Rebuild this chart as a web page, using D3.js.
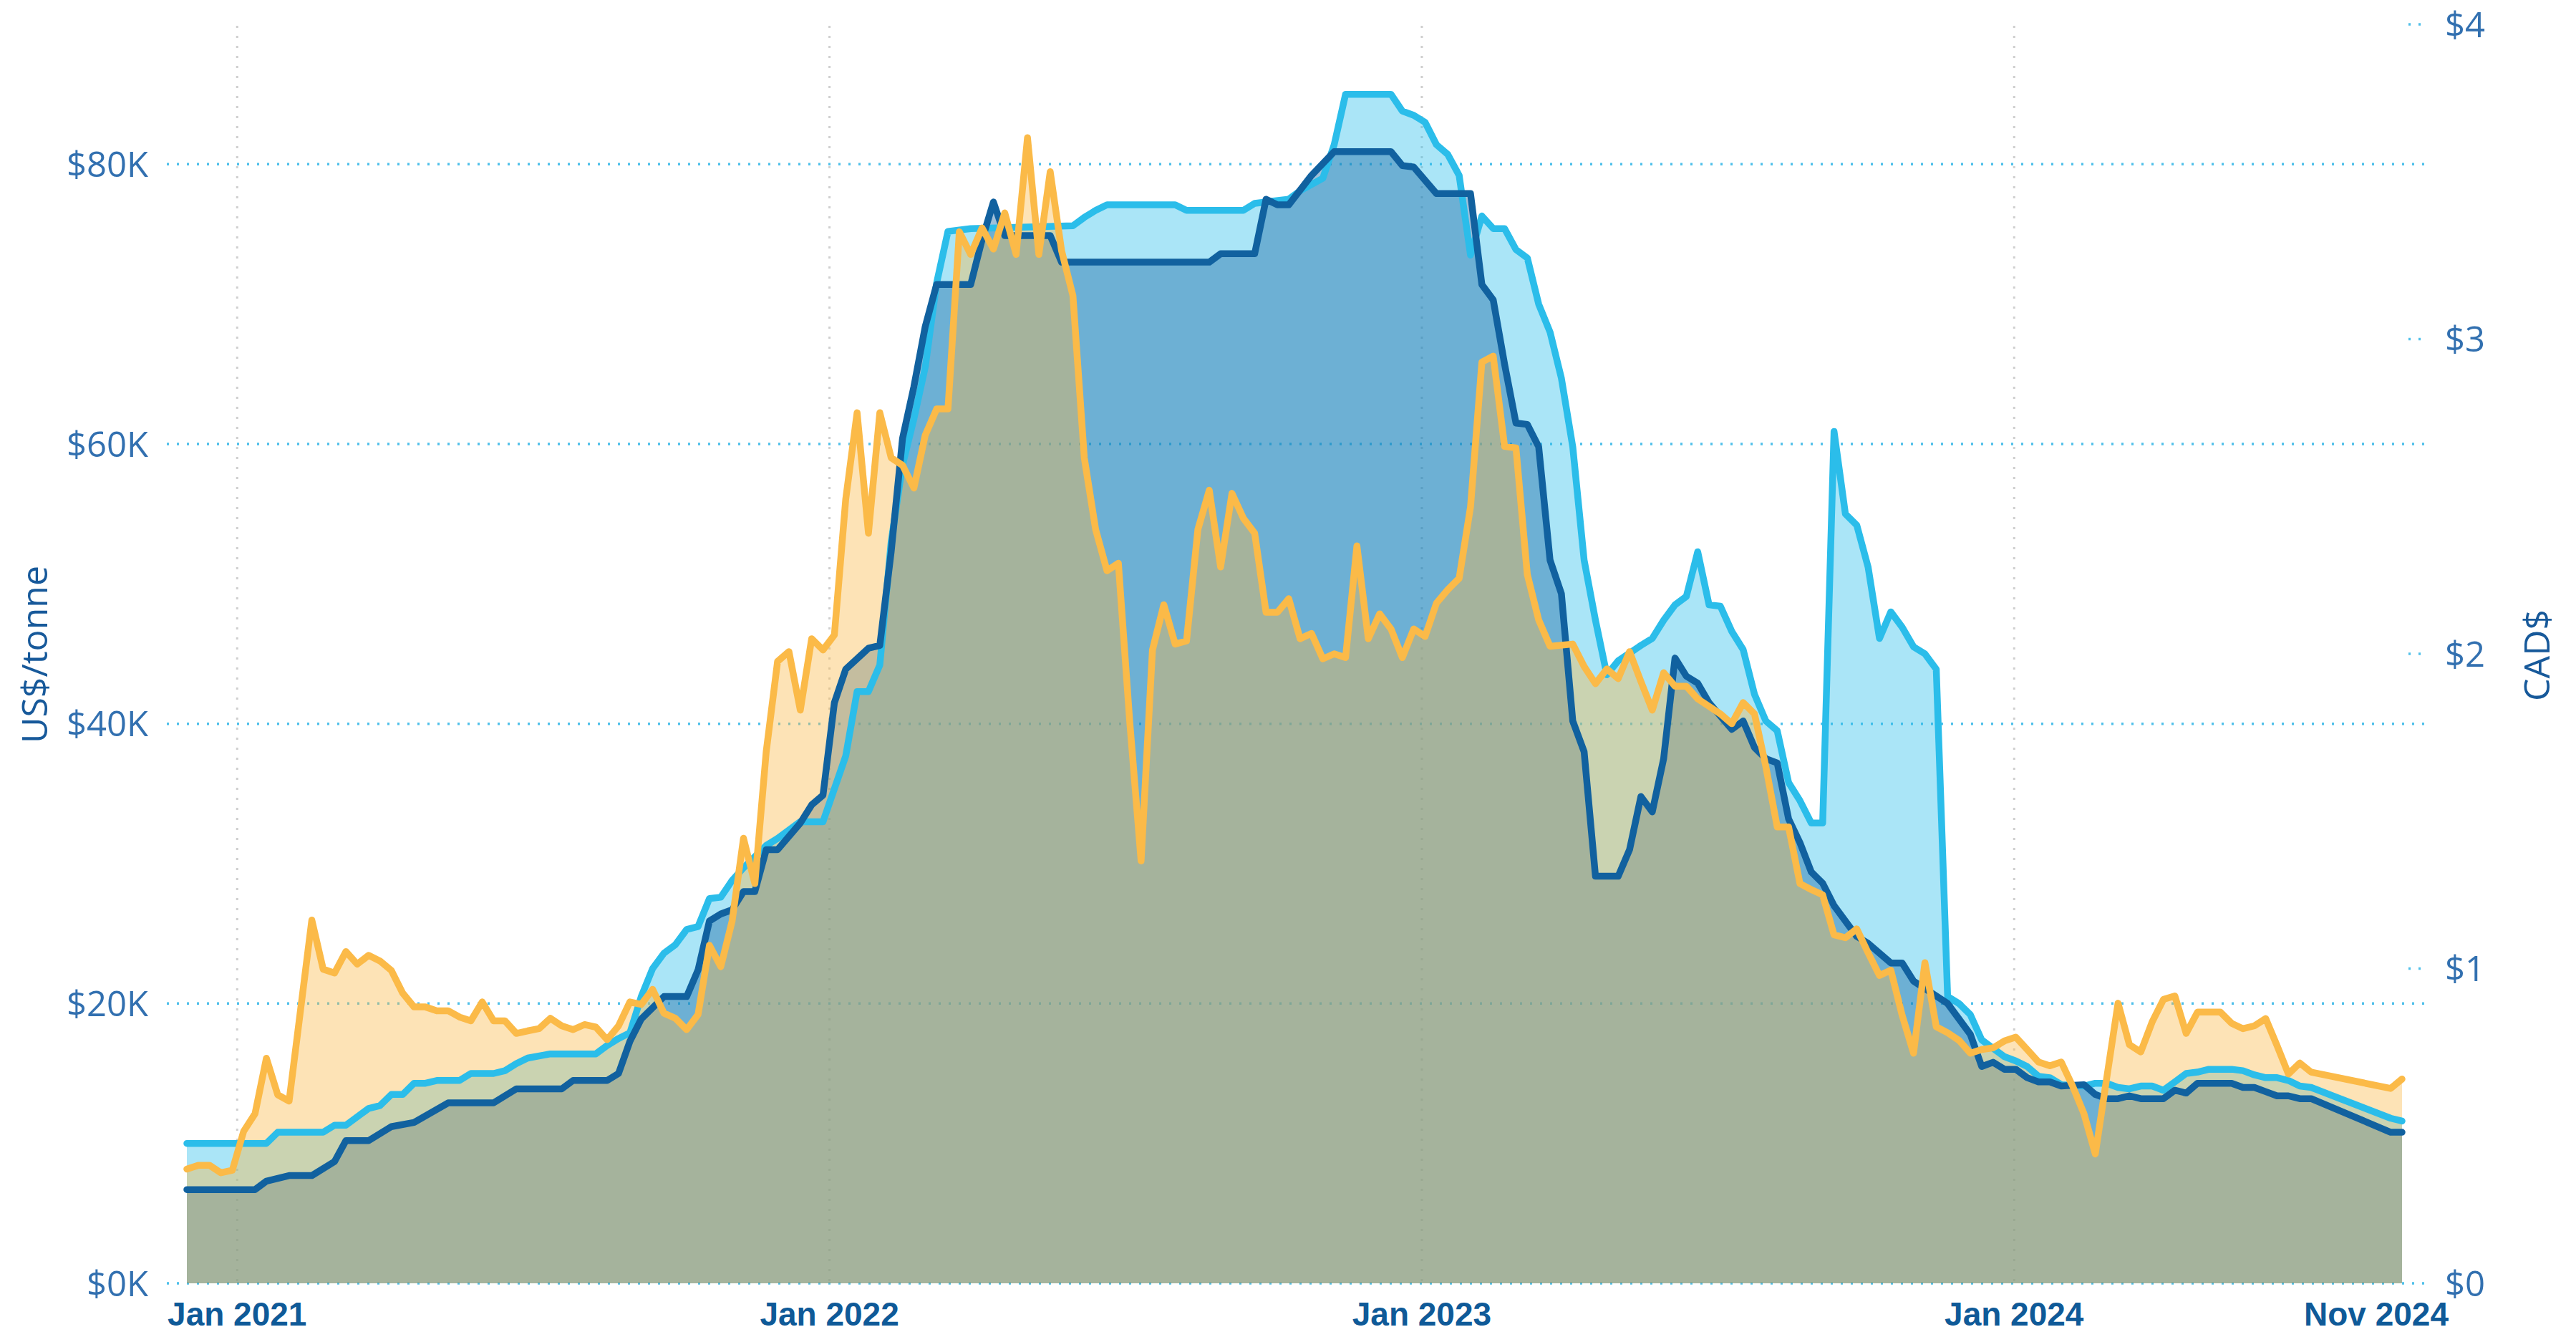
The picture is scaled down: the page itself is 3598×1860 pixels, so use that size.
<!DOCTYPE html>
<html>
<head>
<meta charset="utf-8">
<script src="https://cdn.jsdelivr.net/npm/d3@7"></script>
<style>
  html, body { margin: 0; padding: 0; background: #fff; }
  svg { display: block; }
  .tick-label { font-family: "Open Sans", "Noto Sans", sans-serif; font-size: 49px; fill: #3270b0; }
  .axis-title { font-family: "Open Sans", "Noto Sans", sans-serif; font-size: 50px; fill: #17599a; }
  .x-label { font-family: "Liberation Sans", Arial, sans-serif; font-weight: bold; font-size: 46px; fill: #0f5a98; }
</style>
</head>
<body>
<script>
// weekly observations, week 0 = first week of Dec 2020
const firstWeek = '2020-12-01'

// US$ thousands per tonne (left axis)
const darkSeries = [
  [0,6.7],[6,6.7],[7,7.3],[9,7.7],[11,7.7],[13,8.7],[14,10.2],[16,10.2],[18,11.2],[20,11.5],
  [23,12.9],[27,12.9],[29,13.9],[33,13.9],[34,14.5],[37,14.5],[38,15.0],[39,17.3],[40,18.9],[42,20.5],
  [44,20.5],[45,22.4],[46,25.9],[47,26.4],[48,26.7],[49,28.0],[50,28.0],[51,31.0],[52,31.0],[54,32.9],
  [55,34.2],[56,34.9],[57,41.5],[58,43.9],[60,45.4],[61,45.6],[62,52.3],[63,60.4],[64,64.1],[65,68.4],
  [66,71.4],[69,71.4],[70,74.6],[71,77.3],[72,74.9],[76,74.9],[77,73.0],[90,73.0],[91,73.6],[94,73.6],
  [95,77.5],[96,77.1],[97,77.1],[99,79.2],[101,80.9],[106,80.9],[107,79.9],[108,79.8],[110,77.9],[113,77.9],
  [114,71.4],[115,70.3],[116,65.7],[117,61.5],[118,61.4],[119,59.8],[120,51.7],[121,49.3],[122,40.2],[123,38.0],
  [124,29.1],[126,29.1],[127,31.0],[128,34.8],[129,33.7],[130,37.5],[131,44.7],[132,43.4],[133,42.9],[134,41.5],
  [136,39.6],[137,40.2],[138,38.3],[139,37.5],[140,37.2],[141,33.2],[142,31.5],[143,29.4],[144,28.6],[145,27.0],
  [147,24.8],[148,24.3],[150,22.9],[151,22.9],[152,21.6],[155,20.0],[157,17.8],[158,15.5],[159,15.8],[160,15.3],
  [161,15.3],[162,14.7],[163,14.4],[164,14.4],[165,14.1],[167,14.2],[168,13.5],[169,13.2],[170,13.2],[171,13.4],
  [172,13.2],[174,13.2],[175,13.8],[176,13.6],[177,14.3],[180,14.3],[181,14.0],[182,14.0],[183,13.7],[184,13.4],
  [185,13.4],[186,13.2],[187,13.2],[194,10.8],[195,10.8]
]

const lightSeries = [
  [0,10.0],[7,10.0],[8,10.8],[12,10.8],[13,11.3],[14,11.3],[15,11.9],[16,12.5],[17,12.7],[18,13.5],
  [19,13.5],[20,14.3],[21,14.3],[22,14.5],[24,14.5],[25,15.0],[27,15.0],[28,15.2],[29,15.7],[30,16.1],
  [32,16.4],[36,16.4],[37,17.0],[38,17.5],[39,17.9],[40,20.5],[41,22.5],[42,23.6],[43,24.2],[44,25.3],
  [45,25.5],[46,27.5],[47,27.6],[48,28.8],[49,29.7],[51,31.3],[52,31.8],[54,33.0],[56,33.0],[58,37.7],
  [59,42.3],[60,42.3],[61,44.2],[62,53.0],[63,58.5],[64,61.8],[65,65.5],[66,71.5],[67,75.2],[69,75.4],
  [78,75.6],[79,76.2],[80,76.7],[81,77.1],[87,77.1],[88,76.7],[93,76.7],[94,77.2],[97,77.5],[98,78.1],
  [100,79.0],[101,81.4],[102,85.0],[106,85.0],[107,83.8],[108,83.5],[109,83.0],[110,81.4],[111,80.7],[112,79.2],
  [113,73.5],[114,76.3],[115,75.4],[116,75.4],[117,73.9],[118,73.3],[119,70.0],[120,68.0],[121,64.7],[122,59.8],
  [123,51.7],[124,47.4],[125,43.5],[126,44.5],[128,45.6],[129,46.1],[130,47.4],[131,48.5],[132,49.1],[133,52.3],
  [134,48.5],[135,48.4],[136,46.6],[137,45.3],[138,42.1],[139,40.2],[140,39.5],[141,35.8],[142,34.5],[143,32.9],
  [144,32.9],[145,60.9],[146,55.0],[147,54.2],[148,51.2],[149,46.1],[150,48.0],[151,46.9],[152,45.5],[153,45.0],
  [154,43.9],[155,20.5],[156,20.0],[157,19.2],[158,17.4],[160,16.2],[161,15.9],[162,15.5],[163,14.8],[164,14.7],
  [165,14.2],[167,14.1],[168,14.3],[169,14.3],[170,14.0],[171,13.9],[172,14.1],[173,14.1],[174,13.8],[175,14.4],
  [176,15.0],[177,15.1],[178,15.3],[180,15.3],[181,15.2],[182,14.9],[183,14.7],[184,14.7],[185,14.5],[186,14.1],
  [187,14.0],[194,11.8],[195,11.6]
]

// CAD$ (right axis)
const cadSeries = [
  [0,0.363],[1,0.375],[2,0.375],[3,0.351],[4,0.359],[5,0.483],[6,0.539],[7,0.715],[8,0.599],[9,0.579],
  [11,1.154],[12,0.998],[13,0.986],[14,1.054],[15,1.014],[16,1.042],[17,1.024],[18,0.994],[19,0.922],[20,0.878],
  [21,0.878],[22,0.866],[23,0.866],[24,0.846],[25,0.834],[26,0.894],[27,0.834],[28,0.834],[29,0.794],[30,0.802],
  [31,0.809],[32,0.842],[33,0.818],[34,0.806],[35,0.822],[36,0.814],[37,0.774],[38,0.818],[39,0.894],[40,0.886],
  [41,0.934],[42,0.858],[43,0.842],[44,0.806],[45,0.854],[46,1.074],[47,1.006],[48,1.151],[49,1.414],[50,1.270],
  [51,1.689],[52,1.976],[53,2.007],[54,1.821],[55,2.048],[56,2.012],[57,2.060],[58,2.491],[59,2.766],[60,2.383],
  [61,2.766],[62,2.623],[63,2.599],[64,2.527],[65,2.695],[66,2.778],[67,2.778],[68,3.341],[69,3.269],[70,3.353],
  [71,3.286],[72,3.401],[73,3.269],[74,3.640],[75,3.269],[76,3.532],[77,3.281],[78,3.138],[79,2.623],[80,2.395],
  [81,2.264],[82,2.288],[83,1.785],[84,1.342],[85,2.012],[86,2.156],[87,2.031],[88,2.041],[89,2.395],[90,2.520],
  [91,2.276],[92,2.510],[93,2.431],[94,2.383],[95,2.132],[96,2.132],[97,2.175],[98,2.048],[99,2.065],[100,1.984],
  [101,2.000],[102,1.988],[103,2.343],[104,2.048],[105,2.127],[106,2.079],[107,1.988],[108,2.079],[109,2.055],[110,2.161],
  [111,2.204],[112,2.240],[113,2.467],[114,2.927],[115,2.946],[116,2.659],[117,2.654],[118,2.252],[119,2.108],[120,2.024],
  [122,2.031],[123,1.960],[124,1.905],[125,1.952],[126,1.921],[127,2.007],[128,1.912],[129,1.821],[130,1.940],[131,1.897],
  [132,1.897],[133,1.857],[134,1.833],[135,1.809],[136,1.778],[137,1.845],[138,1.809],[139,1.641],[140,1.450],[141,1.450],
  [142,1.270],[143,1.251],[144,1.234],[145,1.107],[146,1.098],[147,1.126],[148,1.050],[149,0.978],[150,0.995],[151,0.851],
  [152,0.731],[153,1.019],[154,0.815],[155,0.796],[156,0.772],[157,0.731],[158,0.743],[159,0.748],[160,0.770],[161,0.782],
  [162,0.743],[163,0.703],[164,0.691],[165,0.703],[166,0.627],[167,0.539],[168,0.411],[169,0.651],[170,0.890],[171,0.758],
  [172,0.735],[173,0.830],[174,0.902],[175,0.913],[176,0.794],[177,0.862],[179,0.862],[180,0.826],[181,0.809],[182,0.818],
  [183,0.841],[184,0.755],[185,0.665],[186,0.700],[187,0.671],[194,0.619],[195,0.649]
]

const leftTicks = [0, 20, 40, 60, 80]
const rightTicks = [0, 1, 2, 3, 4]
const yearTicks = ['2021-01-01', '2022-01-01', '2023-01-01', '2024-01-01']
const lastLabel = 'Nov 2024'

const width = 3598
const height = 1860
const plot = { left: 261, right: 3355, top: 34, bottom: 1792 }

const start = d3.timeParse('%Y-%m-%d')(firstWeek)
const weekDate = (w) => d3.timeDay.offset(start, 7 * w)
const lastWeek = d3.max(darkSeries, d => d[0])

const x = d3.scaleTime()
    .domain([weekDate(0), weekDate(lastWeek)])
    .range([plot.left, plot.right])
const yLeft = d3.scaleLinear().domain([0, 90]).range([plot.bottom, plot.top])
const yRight = d3.scaleLinear().domain([0, 4]).range([plot.bottom, plot.top])

const svg = d3.select('body').append('svg')
    .attr('width', width)
    .attr('height', height)

svg.append('rect').attr('width', width).attr('height', height).attr('fill', '#fff')

// grid
const grid = svg.append('g')
grid.selectAll('.hgrid').data(leftTicks).enter()
  .append('line')
    .attr('x1', 233).attr('x2', 3386)
    .attr('y1', d => yLeft(d)).attr('y2', d => yLeft(d))
    .attr('stroke', '#4fc0ea')
    .attr('stroke-width', 3.5)
    .attr('stroke-dasharray', '3 11')

grid.selectAll('.rstub').data(rightTicks.filter(d => d > 0)).enter()
  .append('line')
    .attr('x1', 3364).attr('x2', 3388)
    .attr('y1', d => yRight(d)).attr('y2', d => yRight(d))
    .attr('stroke', '#4fc0ea')
    .attr('stroke-width', 3.5)
    .attr('stroke-dasharray', '3 11')

const parseDay = d3.timeParse('%Y-%m-%d')
grid.selectAll('.vgrid').data(yearTicks).enter()
  .append('line')
    .attr('x1', d => x(parseDay(d))).attr('x2', d => x(parseDay(d)))
    .attr('y1', 36).attr('y2', plot.bottom)
    .attr('stroke', '#cfcfcf')
    .attr('stroke-width', 3)
    .attr('stroke-dasharray', '3 11')

const series = [
  { data: lightSeries, y: yLeft, color: '#2bbdea' },
  { data: darkSeries, y: yLeft, color: '#11619f' },
  { data: cadSeries, y: yRight, color: '#fbba48' }
]

// areas first, then the lines on top
series.forEach(s => {
  const area = d3.area()
      .x(d => x(weekDate(d[0])))
      .y0(plot.bottom)
      .y1(d => s.y(d[1]))
  svg.append('path')
      .attr('d', area(s.data))
      .attr('fill', s.color)
      .attr('fill-opacity', 0.4)
})

series.forEach(s => {
  const line = d3.line()
      .x(d => x(weekDate(d[0])))
      .y(d => s.y(d[1]))
  svg.append('path')
      .attr('d', line(s.data))
      .attr('fill', 'none')
      .attr('stroke', s.color)
      .attr('stroke-width', 9.5)
      .attr('stroke-linejoin', 'round')
      .attr('stroke-linecap', 'round')
})

// axes labels
svg.selectAll('.ltick').data(leftTicks).enter()
  .append('text')
    .attr('class', 'tick-label')
    .attr('x', 207)
    .attr('y', d => yLeft(d))
    .attr('dy', '0.36em')
    .attr('text-anchor', 'end')
    .text(d => `$${d}K`)

svg.selectAll('.rtick').data(rightTicks).enter()
  .append('text')
    .attr('class', 'tick-label')
    .attr('x', 3415)
    .attr('y', d => yRight(d))
    .attr('dy', '0.36em')
    .text(d => `$${d}`)

const fmt = d3.timeFormat('%b %Y')
svg.selectAll('.xtick').data(yearTicks).enter()
  .append('text')
    .attr('class', 'x-label')
    .attr('x', d => x(parseDay(d)))
    .attr('y', 1851)
    .attr('text-anchor', 'middle')
    .text(d => fmt(parseDay(d)))

svg.append('text')
    .attr('class', 'x-label')
    .attr('x', x(weekDate(lastWeek)) - 36)
    .attr('y', 1851)
    .attr('text-anchor', 'middle')
    .text(lastLabel)

svg.append('text')
    .attr('class', 'axis-title')
    .attr('transform', 'translate(48,914) rotate(-90)')
    .attr('dy', '0.35em')
    .attr('text-anchor', 'middle')
    .text('US$/tonne')

svg.append('text')
    .attr('class', 'axis-title')
    .attr('transform', 'translate(3543,915) rotate(-90)')
    .attr('dy', '0.35em')
    .attr('text-anchor', 'middle')
    .text('CAD$')
</script>
</body>
</html>
